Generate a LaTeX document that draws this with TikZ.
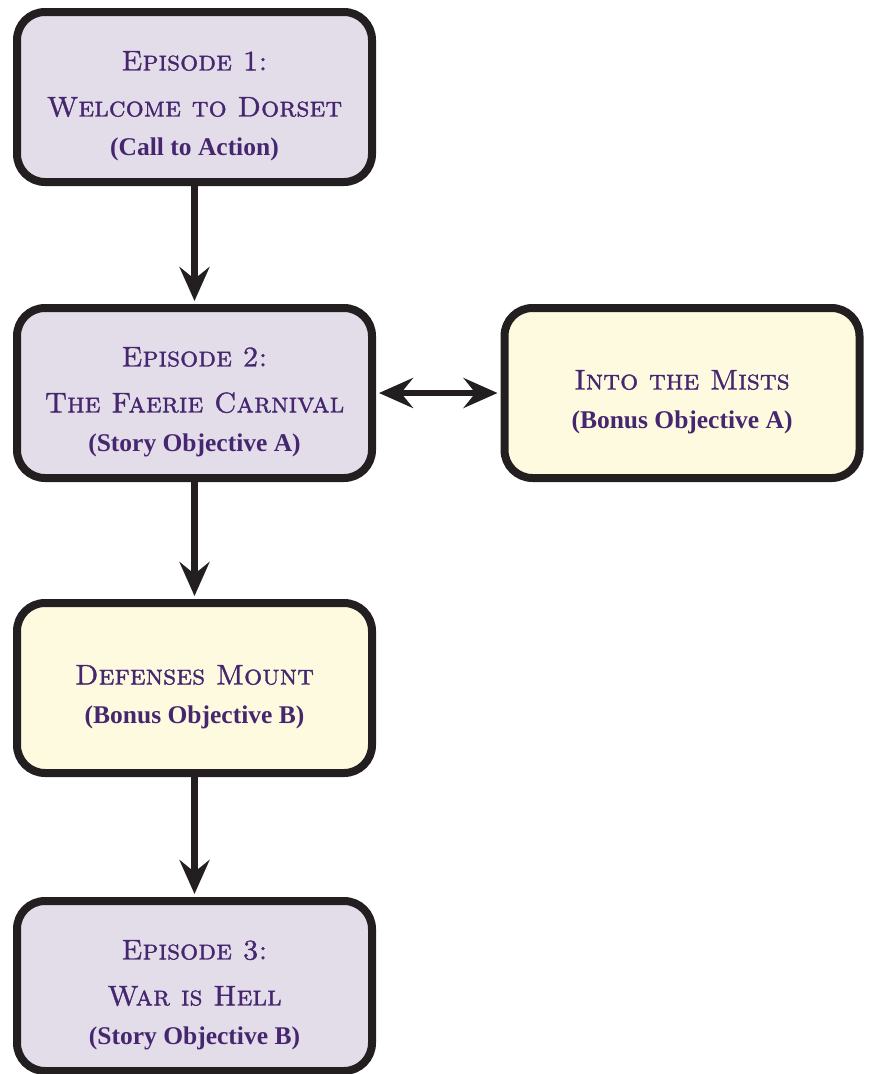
\documentclass[tikz,border=0pt]{standalone}
\usepackage{fontspec}
\newfontfamily\subf{Liberation Serif}
\newfontfamily\ttlf{lmromancaps10-regular.otf}[FakeBold=1.2]
\usetikzlibrary{arrows.meta}
\definecolor{lav}{HTML}{E3DDEA}
\definecolor{cream}{HTML}{FEFADF}
\definecolor{edgec}{HTML}{231F20}
\definecolor{ink}{HTML}{45266F}
\newcommand{\ttl}{\fontsize{28.5}{46}\selectfont\ttlf}
\newcommand{\sub}{\fontsize{25.5}{30}\selectfont\subf\bfseries}
\tikzset{
  box/.style={draw=edgec, line width=8pt, rounded corners=28pt,
    minimum width=355pt, minimum height=170pt, inner sep=0pt},
  story/.style={box, fill=lav},
  bonus/.style={box, fill=cream},
  txt/.style={align=center, text=ink, font=\ttl, inner sep=0pt},
  flow/.style={draw=edgec, line width=6.5pt,
    -{Stealth[length=34pt,width=30pt,inset=12pt]}, shorten >=3pt},
  biflow/.style={draw=edgec, line width=6.5pt,
    {Stealth[length=34pt,width=30pt,inset=12pt]}-{Stealth[length=34pt,width=30pt,inset=12pt]},
    shorten >=3pt, shorten <=3pt}
}
\begin{document}
\begin{tikzpicture}[x=1pt,y=-1pt]
\useasboundingbox (0,0) rectangle (869,1074);
\node[story] (e1) at (194.5,97) {};
\node[story] (e2) at (194.5,393) {};
\node[bonus] (mists) at (682,393) {};
\node[bonus] (def) at (194.5,688) {};
\node[story] (e3) at (194.5,986) {};
\node[txt] (t1) at ([yshift=-9pt]e1.center) {Episode 1:\\ Welcome to Dorset\\[-7pt]{\sub (Call to Action)}};
\node[txt] (t2) at ([yshift=-9pt]e2.center) {Episode 2:\\ The Faerie Carnival\\[-7pt]{\sub (Story Objective A)}};
\node[txt] (t3) at ([yshift=-9pt]mists.center) {Into the Mists\\[-7pt]{\sub (Bonus Objective A)}};
\node[txt] (t4) at ([yshift=-9pt]def.center) {Defenses Mount\\[-7pt]{\sub (Bonus Objective B)}};
\node[txt] (t5) at ([yshift=-9pt]e3.center) {Episode 3:\\ War is Hell\\[-7pt]{\sub (Story Objective B)}};
\draw[flow] (e1.south) -- (e2.north);
\draw[biflow] (e2.east) -- (mists.west);
\draw[flow] (e2.south) -- (def.north);
\draw[flow] (def.south) -- (e3.north);
\end{tikzpicture}
\end{document}
